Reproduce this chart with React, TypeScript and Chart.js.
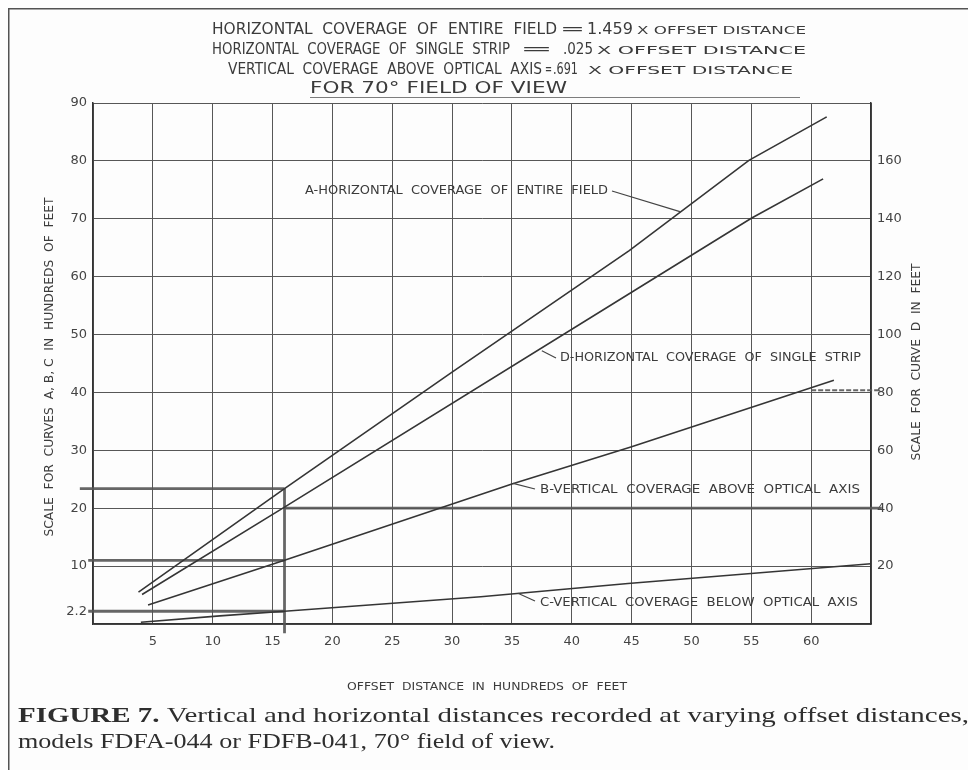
import React, { useEffect, useRef } from "react";
import { Chart, registerables } from "chart.js";

Chart.register(...registerables);

// ---------- data ----------
const offsetTickValues = [0, 5, 10, 15, 20, 25, 30, 35, 40, 45, 50, 55, 60, 65];
const hiddenOffsetTicks = [0, 65];
const leftTickValues = [0, 2.2, 10, 20, 30, 40, 50, 60, 70, 80, 90];
const rightTickValues = [0, 20, 40, 60, 80, 100, 120, 140, 160, 180];

// A - horizontal coverage of entire field (hundreds of feet)
const curveAOffset = [3.8, 16, 30, 44.8, 54.8, 61.3];
const curveAValue = [5.5, 23.4, 43.5, 64.5, 80.1, 87.6];
// D - horizontal coverage of single strip (feet, right scale)
const curveDOffset = [4.1, 16, 45, 55, 61];
const curveDValue = [10.2, 40.4, 114.6, 140.2, 153.8];
// B - vertical coverage above optical axis
const curveBOffset = [4.6, 16, 35, 45, 61.9];
const curveBValue = [3.3, 11, 24.2, 30.6, 42.1];
// C - vertical coverage below optical axis
const curveCOffset = [4, 10.6, 16, 32.4, 44.7, 61.4, 65];
const curveCValue = [0.3, 1.4, 2.2, 4.7, 7.0, 9.8, 10.4];

// reading guides drawn at offset 16
const guideAOffset = [-1.1, 16];
const guideAValue = [23.4, 23.4];
const guideBOffset = [-0.4, 16];
const guideBValue = [11, 11];
const guideCOffset = [-0.4, 16];
const guideCValue = [2.2, 2.2];
const guideDOffset = [16, 65.9];
const guideDValue = [20, 20];
const guideVOffset = [16, 16];
const guideVValue = [-1.6, 23.4];
const guideEndOffset = [60, 65.8];
const guideEndValue = [40.4, 40.4];

// leader tips (offset, value on left scale)
const leaderTipOffset = [49.1, 37.5, 35.1, 35.5];
const leaderTipValue = [71.2, 47.2, 24.3, 5.3];

// ---------- text ----------
const headerLine1 = ["HORIZONTAL  COVERAGE  OF  ENTIRE  FIELD", "=", "1.459", "X OFFSET DISTANCE"];
const headerLine2 = ["HORIZONTAL  COVERAGE  OF  SINGLE  STRIP", "=", ".025", "X OFFSET DISTANCE"];
const headerLine3 = ["VERTICAL  COVERAGE  ABOVE  OPTICAL  AXIS", "=", ".691", "X OFFSET DISTANCE"];
const headerLine4 = "FOR 70° FIELD OF VIEW";
const curveLabels = [
  "A-HORIZONTAL  COVERAGE  OF  ENTIRE  FIELD",
  "D-HORIZONTAL  COVERAGE  OF  SINGLE  STRIP",
  "B-VERTICAL  COVERAGE  ABOVE  OPTICAL  AXIS",
  "C-VERTICAL  COVERAGE  BELOW  OPTICAL  AXIS",
];
const leftAxisTitle = "SCALE  FOR  CURVES  A, B, C  IN  HUNDREDS  OF  FEET";
const rightAxisTitle = "SCALE  FOR  CURVE  D  IN  FEET";
const bottomAxisTitle = "OFFSET  DISTANCE  IN  HUNDREDS  OF  FEET";
const captionBold = "FIGURE 7.";
const captionLine1 = " Vertical and horizontal distances recorded at varying offset distances,";
const captionLine2 = "models FDFA-044 or FDFB-041, 70° field of view.";

const pts = (xs: number[], ys: number[]) => xs.map((x, i) => ({ x, y: ys[i] }));

const INK = "#3b3b3b";
const SANS = "'DejaVu Sans'";

function fitText(
  ctx: CanvasRenderingContext2D,
  text: string,
  x0: number,
  x1: number,
  y: number,
  font: string
) {
  ctx.save();
  ctx.font = font;
  ctx.textAlign = "left";
  ctx.textBaseline = "middle";
  const w = ctx.measureText(text).width;
  const s = (x1 - x0) / w;
  ctx.translate(x0, y);
  ctx.scale(s, 1);
  ctx.fillText(text, 0, 0);
  ctx.restore();
}

function fitVertical(
  ctx: CanvasRenderingContext2D,
  text: string,
  cx: number,
  cy: number,
  len: number,
  font: string
) {
  ctx.save();
  ctx.font = font;
  ctx.textAlign = "center";
  ctx.textBaseline = "middle";
  const w = ctx.measureText(text).width;
  ctx.translate(cx, cy);
  ctx.rotate(-Math.PI / 2);
  ctx.scale(len / w, 1);
  ctx.fillText(text, 0, 0);
  ctx.restore();
}

const paperPlugin = {
  id: "paper",
  beforeDraw(chart: any) {
    const ctx = chart.ctx;
    ctx.save();
    ctx.fillStyle = "#fdfdfd";
    ctx.fillRect(0, 0, chart.width, chart.height);
    ctx.restore();
  },
};

const notesPlugin = {
  id: "notes",
  afterDraw(chart: any) {
    const ctx: CanvasRenderingContext2D = chart.ctx;
    const xs = chart.scales.x;
    const ys = chart.scales.y;
    ctx.save();
    // frame
    ctx.strokeStyle = "#555";
    ctx.lineWidth = 1.5;
    ctx.beginPath();
    ctx.moveTo(chart.width, 0.75);
    ctx.lineTo(0.75, 0.75);
    ctx.lineTo(0.75, chart.height);
    ctx.stroke();

    ctx.fillStyle = INK;
    const big = `15px ${SANS}`;
    const small = `11px ${SANS}`;
    // header line 1
    fitText(ctx, headerLine1[0], 204, 549, 22, big);
    fitText(ctx, headerLine1[1], 552, 577, 22, big);
    fitText(ctx, headerLine1[2], 579, 625, 22, big);
    fitText(ctx, headerLine1[3], 629, 798, 23, small);
    // header line 2
    fitText(ctx, headerLine2[0], 204, 502, 42, big);
    fitText(ctx, headerLine2[1], 512, 545, 42, big);
    fitText(ctx, headerLine2[2], 555, 585, 42, big);
    fitText(ctx, headerLine2[3], 589, 798, 43, small);
    // header line 3
    fitText(ctx, headerLine3[0], 220, 534, 62, big);
    fitText(ctx, headerLine3[1], 537, 544, 62, big);
    fitText(ctx, headerLine3[2], 545, 570, 62, big);
    fitText(ctx, headerLine3[3], 580, 785, 63, small);
    // header line 4
    fitText(ctx, headerLine4, 302, 559, 81, big);
    ctx.strokeStyle = "rgba(70,70,70,0.7)";
    ctx.lineWidth = 1;
    ctx.beginPath();
    ctx.moveTo(302, 89.5);
    ctx.lineTo(792, 89.5);
    ctx.stroke();

    // curve labels
    const lab = `13px ${SANS}`;
    fitText(ctx, curveLabels[0], 297, 600, 183, lab);
    fitText(ctx, curveLabels[1], 552, 853, 350, lab);
    fitText(ctx, curveLabels[2], 532, 852, 482, lab);
    fitText(ctx, curveLabels[3], 532, 850, 595, lab);

    // leaders
    const starts = [
      [604, 183],
      [548, 350],
      [527, 481],
      [527, 593],
    ];
    ctx.strokeStyle = "#444";
    ctx.lineWidth = 1.2;
    starts.forEach((s, i) => {
      const tx = xs.getPixelForValue(leaderTipOffset[i]);
      const ty = ys.getPixelForValue(leaderTipValue[i]);
      ctx.beginPath();
      ctx.moveTo(s[0], s[1]);
      ctx.lineTo(tx, ty);
      ctx.stroke();
    });

    // axis titles
    fitVertical(ctx, leftAxisTitle, 42, 359, 339, `13px ${SANS}`);
    fitVertical(ctx, rightAxisTitle, 909, 354, 197, `13px ${SANS}`);
    fitText(ctx, bottomAxisTitle, 339, 619, 679, `11px ${SANS}`);

    // caption
    const serifB = "bold 22px 'Liberation Serif'";
    const serif = "22px 'Liberation Serif'";
    ctx.font = serifB;
    const wb = ctx.measureText(captionBold).width;
    ctx.font = serif;
    const wr = ctx.measureText(captionLine1).width;
    const s1 = (961 - 10) / (wb + wr);
    ctx.fillStyle = "#2e2e2e";
    ctx.save();
    ctx.translate(10, 708);
    ctx.scale(s1, 1);
    ctx.textBaseline = "middle";
    ctx.textAlign = "left";
    ctx.font = serifB;
    ctx.fillText(captionBold, 0, 0);
    ctx.font = serif;
    ctx.fillText(captionLine1, wb, 0);
    ctx.restore();
    fitText(ctx, captionLine2, 10, 547, 734, serif);
    ctx.restore();
  },
};

const curveStyle = {
  borderColor: "#353535",
  borderWidth: 1.6,
  pointRadius: 0,
  fill: false,
  tension: 0,
};
const guideStyle = {
  borderColor: "rgba(85,85,85,0.9)",
  borderWidth: 2.8,
  pointRadius: 0,
  fill: false,
  clip: false as const,
};

export default function App() {
  const ref = useRef<HTMLCanvasElement>(null);
  useEffect(() => {
    if (!ref.current) return;
    const chart = new Chart(ref.current, {
      type: "line",
      data: {
        datasets: [
          { label: "A", data: pts(curveAOffset, curveAValue), ...curveStyle },
          { label: "D", data: pts(curveDOffset, curveDValue), yAxisID: "y2", ...curveStyle },
          { label: "B", data: pts(curveBOffset, curveBValue), ...curveStyle },
          { label: "C", data: pts(curveCOffset, curveCValue), ...curveStyle },
          { label: "gA", data: pts(guideAOffset, guideAValue), ...guideStyle },
          { label: "gB", data: pts(guideBOffset, guideBValue), ...guideStyle },
          { label: "gC", data: pts(guideCOffset, guideCValue), ...guideStyle },
          { label: "gD", data: pts(guideDOffset, guideDValue), ...guideStyle },
          { label: "gV", data: pts(guideVOffset, guideVValue), ...guideStyle },
          {
            label: "gE",
            data: pts(guideEndOffset, guideEndValue),
            ...guideStyle,
            borderWidth: 2,
            borderDash: [5, 2],
          },
        ] as any,
      },
      options: {
        responsive: false,
        animation: false,
        events: [],
        layout: { padding: { top: 95, left: 0, right: 0, bottom: 0 } },
        plugins: {
          legend: { display: false },
          tooltip: { enabled: false },
          title: { display: false },
        },
        scales: {
          x: {
            type: "linear",
            min: 0,
            max: 65,
            afterBuildTicks: (s: any) => {
              s.ticks = offsetTickValues.map((v) => ({ value: v }));
            },
            afterFit: (s: any) => {
              s.height = 146;
            },
            ticks: {
              autoSkip: false,
              maxRotation: 0,
              padding: 10,
              color: "#444",
              font: { family: "DejaVu Sans", size: 13 },
              callback: (v: any) => (hiddenOffsetTicks.includes(Number(v)) ? "" : String(v)),
            },
            grid: { color: "#575757", lineWidth: 1, drawTicks: false },
            border: { color: "#333", width: 1.5 },
          },
          y: {
            type: "linear",
            position: "left",
            min: 0,
            max: 90,
            afterBuildTicks: (s: any) => {
              s.ticks = leftTickValues.map((v) => ({ value: v }));
            },
            afterFit: (s: any) => {
              s.width = 85;
            },
            ticks: {
              autoSkip: false,
              padding: 6,
              color: "#444",
              font: { family: "DejaVu Sans", size: 13 },
              callback: (v: any) => (Number(v) === 0 ? "" : String(v)),
            },
            grid: {
              color: (c: any) => (c.tick && c.tick.value === 2.2 ? "rgba(0,0,0,0)" : "#575757"),
              lineWidth: 1,
              drawTicks: false,
            },
            border: { color: "#333", width: 1.5 },
          },
          y2: {
            type: "linear",
            position: "right",
            min: 0,
            max: 180,
            afterBuildTicks: (s: any) => {
              s.ticks = rightTickValues.map((v) => ({ value: v }));
            },
            afterFit: (s: any) => {
              s.width = 105;
            },
            ticks: {
              autoSkip: false,
              padding: 6,
              color: "#444",
              font: { family: "DejaVu Sans", size: 13 },
              callback: (v: any) => (Number(v) === 0 || Number(v) === 180 ? "" : String(v)),
            },
            grid: { display: false, drawTicks: false },
            border: { color: "#333", width: 1.5 },
          },
        },
      },
      plugins: [paperPlugin, notesPlugin],
    } as any);
    return () => chart.destroy();
  }, []);
  return (
    <div style={{ width: 968, height: 762 }}>
      <canvas ref={ref} width={968} height={762} style={{ display: "block" }} />
    </div>
  );
}
